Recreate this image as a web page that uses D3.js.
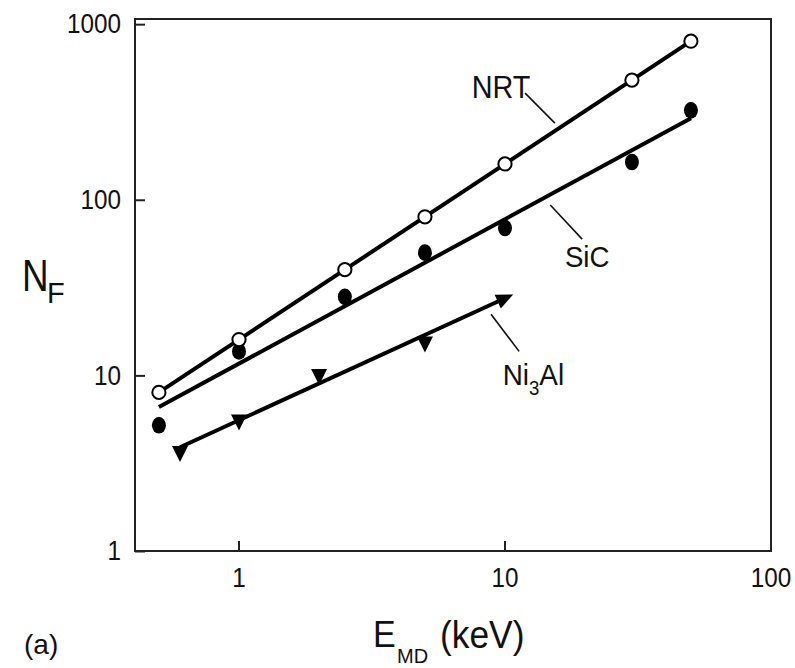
<!DOCTYPE html>
<html><head><meta charset="utf-8">
<script src="https://cdn.jsdelivr.net/npm/d3@7/dist/d3.min.js"></script>
<style>
html,body{margin:0;padding:0;background:#fff;}
svg{display:block;}
text{font-family:"Liberation Sans",Arial,Helvetica,sans-serif;fill:#111;}
</style></head>
<body>
<svg id="chart" width="795" height="668"></svg>
<script>
// ---- data ----
const nrtE  = [0.5, 1, 2.5, 5, 10, 30, 50];
const nrtNF = [8, 16, 40, 80, 160, 480, 800];
const sicE  = [0.5, 1, 2.5, 5, 10, 30, 50];
const sicNF = [5.2, 13.7, 28, 50, 69, 164, 323];
const niE   = [0.6, 1, 2, 5];
const niNF  = [3.57, 5.4, 9.8, 15];
// fitted lines (end points)
const nrtFitE = [0.5, 50],  nrtFitNF = [8, 800];
const sicFitE = [0.5, 50],  sicFitNF = [6.6, 291];
const niFitE  = [0.6, 10],  niFitNF  = [3.9, 27.5];
const xTicks = [1, 10, 100];
const yTicks = [1, 10, 100, 1000];
// annotation labels (data coords) and leader lines
const labelNames = ["NRT", "SiC", "Ni3Al"];
const labelE  = [7.5, 16.8, 9.8];
const labelNF = [379, 41.4, 8.81];
const leaderE1 = [11.9, 14.8, 8.86], leaderNF1 = [405, 93.3, 22.3];
const leaderE2 = [15.4, 19.5, 11.3], leaderNF2 = [273, 59.7, 13.7];

// ---- scales ----
const svg = d3.select("#chart");
const x = d3.scaleLog().domain([0.4065, 100]).range([135, 771]);
const y = d3.scaleLog().domain([1, 1070]).range([551, 19]);

// frame
svg.append("rect")
  .attr("x", x.range()[0]).attr("y", y.range()[1])
  .attr("width", x.range()[1] - x.range()[0])
  .attr("height", y.range()[0] - y.range()[1])
  .attr("fill", "none").attr("stroke", "#222").attr("stroke-width", 2);

// axes
const sx = 0.9;
const yAxis = svg.append("g").attr("transform", `translate(${x.range()[0]},0)`)
  .call(d3.axisLeft(y).tickValues(yTicks).tickFormat(d3.format("d"))
        .tickSizeInner(-10).tickSizeOuter(0).tickPadding(14));
yAxis.select(".domain").remove();
yAxis.selectAll(".tick line").attr("stroke", "#222").attr("stroke-width", 2);
yAxis.selectAll(".tick text").attr("font-size", 27)
  .attr("font-family", "Liberation Sans, Arial, sans-serif").attr("fill", "#111")
  .attr("x", -14 / sx).attr("dy", "0.32em").attr("transform", `scale(${sx},1)`);

const xAxis = svg.append("g").attr("transform", `translate(0,${y.range()[0]})`)
  .call(d3.axisBottom(x).tickValues(xTicks).tickFormat(d3.format("d"))
        .tickSizeInner(-10).tickSizeOuter(0).tickPadding(17));
xAxis.select(".domain").remove();
xAxis.selectAll(".tick line").attr("stroke", "#222").attr("stroke-width", 2);
xAxis.selectAll(".tick text").attr("font-size", 27)
  .attr("font-family", "Liberation Sans, Arial, sans-serif").attr("fill", "#111");
xAxis.selectAll(".tick").each(function(d){
  const t = d3.select(this);
  t.attr("transform", `translate(${x(d)},0)`);
  t.select("text").attr("transform", `scale(${sx},1)`);
});

// fitted lines
const line = d3.line().x(d => x(d[0])).y(d => y(d[1]));
const zip = (a, b) => a.map((v, i) => [v, b[i]]);
[[nrtFitE, nrtFitNF], [sicFitE, sicFitNF], [niFitE, niFitNF]].forEach(([e, n]) => {
  svg.append("path").datum(zip(e, n)).attr("d", line)
    .attr("fill", "none").attr("stroke", "#000").attr("stroke-width", 4)
    .attr("stroke-linecap", "butt");
});

// arrowhead at end of Ni3Al fit line
{
  const p0 = [x(niFitE[0]), y(niFitNF[0])], p1 = [x(niFitE[1]), y(niFitNF[1])];
  const ang = Math.atan2(p1[1] - p0[1], p1[0] - p0[0]) * 180 / Math.PI;
  svg.append("path").attr("d", "M9,0 L-8,-7.5 L-8,7.5 Z")
    .attr("transform", `translate(${p1[0]},${p1[1]}) rotate(${ang})`)
    .attr("fill", "#000");
}

// SiC filled points
svg.append("g").selectAll("ellipse").data(zip(sicE, sicNF)).join("ellipse")
  .attr("cx", d => x(d[0])).attr("cy", d => y(d[1]))
  .attr("rx", 7).attr("ry", 8.3).attr("fill", "#000");

// NRT open circles
svg.append("g").selectAll("circle").data(zip(nrtE, nrtNF)).join("circle")
  .attr("cx", d => x(d[0])).attr("cy", d => y(d[1]))
  .attr("r", 6.6).attr("fill", "#fff").attr("stroke", "#000").attr("stroke-width", 2);

// Ni3Al down triangles
svg.append("g").selectAll("path").data(zip(niE, niNF)).join("path")
  .attr("d", "M-8,-8 L8,-8 L0,8 Z")
  .attr("transform", d => `translate(${x(d[0])},${y(d[1])})`)
  .attr("fill", "#000");

// leader lines
labelNames.forEach((nm, i) => {
  svg.append("line")
    .attr("x1", x(leaderE1[i])).attr("y1", y(leaderNF1[i]))
    .attr("x2", x(leaderE2[i])).attr("y2", y(leaderNF2[i]))
    .attr("stroke", "#111").attr("stroke-width", 1.6);
});

// series labels
function scaledText(px, py, s, size) {
  return svg.append("text")
    .attr("transform", `translate(${px},${py}) scale(${s},1)`)
    .attr("font-size", size);
}
scaledText(x(labelE[0]), y(labelNF[0]), 0.9, 32).text(labelNames[0]);
scaledText(x(labelE[1]), y(labelNF[1]), 0.92, 30).text(labelNames[1]);
{
  const t = scaledText(x(labelE[2]), y(labelNF[2]), 0.93, 30);
  t.append("tspan").text("Ni");
  t.append("tspan").attr("font-size", 20).attr("dy", 10).text("3");
  t.append("tspan").attr("dy", -10).text("Al");
}

// y axis title N_F
svg.append("text").attr("transform", "translate(22,291) scale(0.82,1)").attr("font-size", 45).text("N");
svg.append("text").attr("x", 47).attr("y", 303).attr("font-size", 29).text("F");

// x axis title E_MD (keV)
svg.append("text").attr("transform", "translate(373,647) scale(0.92,1)").attr("font-size", 37).text("E");
svg.append("text").attr("transform", "translate(397,663)").attr("font-size", 20).text("MD");
svg.append("text").attr("transform", "translate(440,648) scale(0.93,1)").attr("font-size", 38).text("(keV)");

// panel label
svg.append("text").attr("transform", "translate(24,654)").attr("font-size", 28).text("(a)");
</script>
</body></html>
